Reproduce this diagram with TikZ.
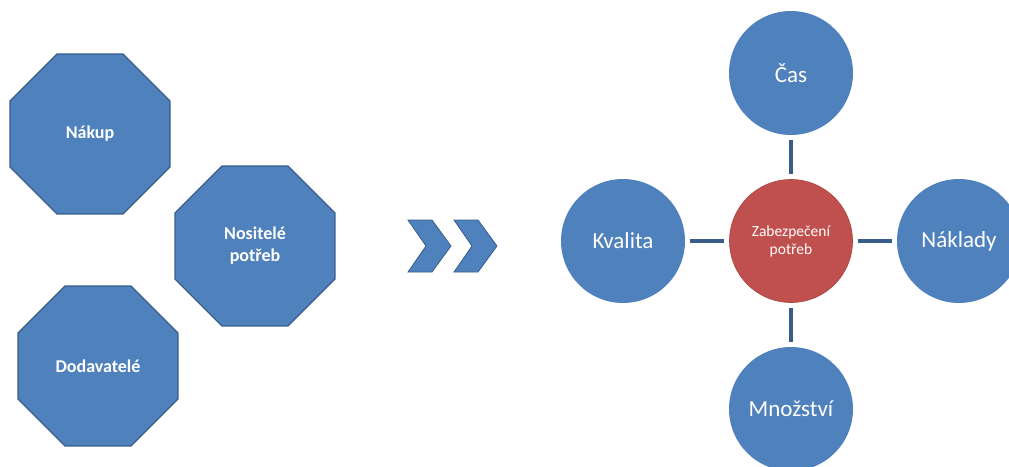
\documentclass[tikz,border=0pt]{standalone}
\usepackage{fontspec}
\setmainfont{Carlito}
\usetikzlibrary{shapes.geometric, positioning}
\definecolor{boxblue}{HTML}{4F81BD}
\definecolor{edgeblue}{HTML}{385D8A}
\definecolor{hubred}{HTML}{C0504D}
\definecolor{hubedge}{HTML}{A9433F}

\begin{document}
\begin{tikzpicture}[x=1pt, y=-1pt, node distance=168pt, on grid]

\tikzset{
  octbox/.style={regular polygon, regular polygon sides=8, draw=edgeblue,
    line width=1.2pt, fill=boxblue, minimum size=173pt, inner sep=0pt,
    text=white, align=center, font=\fontsize{18}{22}\selectfont\bfseries},
  topic/.style={circle, fill=boxblue, minimum size=124pt, inner sep=0pt,
    text=white, font=\fontsize{23}{27}\selectfont},
  hub/.style={circle, fill=hubred, draw=hubedge, line width=0.6pt,
    minimum size=123pt, inner sep=0pt, text=white, align=center,
    font=\fontsize{15.5}{18}\selectfont},
  chevron/.style={fill=boxblue, draw=edgeblue, line width=0.8pt,
    line join=miter},
  link/.style={draw=edgeblue, line width=4pt, shorten <=5pt, shorten >=5pt}
}

\useasboundingbox (0,0) rectangle (1009,466);

\node[octbox] (nakup) at (90,134) {Nákup};
\node[octbox] (nositele) at (255,246) {Nositelé\\potřeb};
\node[octbox] (dodavatele) at (98,366) {Dodavatelé};

\foreach \dx in {0,46}
  \draw[chevron, xshift=\dx pt] (408,220) -- (432,220) -- (451,246)
    -- (432,272) -- (408,272) -- (426,246) -- cycle;

\node[hub] (zabezpeceni) at (791,241) {Zabezpečení\\potřeb};
\node[topic, above=of zabezpeceni] (cas) {Čas};
\node[topic, left=of zabezpeceni] (kvalita) {Kvalita};
\node[topic, right=of zabezpeceni] (naklady) {Náklady};
\node[topic, below=of zabezpeceni] (mnozstvi) {Množství};

\draw[link] (cas)     -- (zabezpeceni);
\draw[link] (kvalita) -- (zabezpeceni);
\draw[link] (naklady) -- (zabezpeceni);
\draw[link] (mnozstvi) -- (zabezpeceni);

\end{tikzpicture}
\end{document}
